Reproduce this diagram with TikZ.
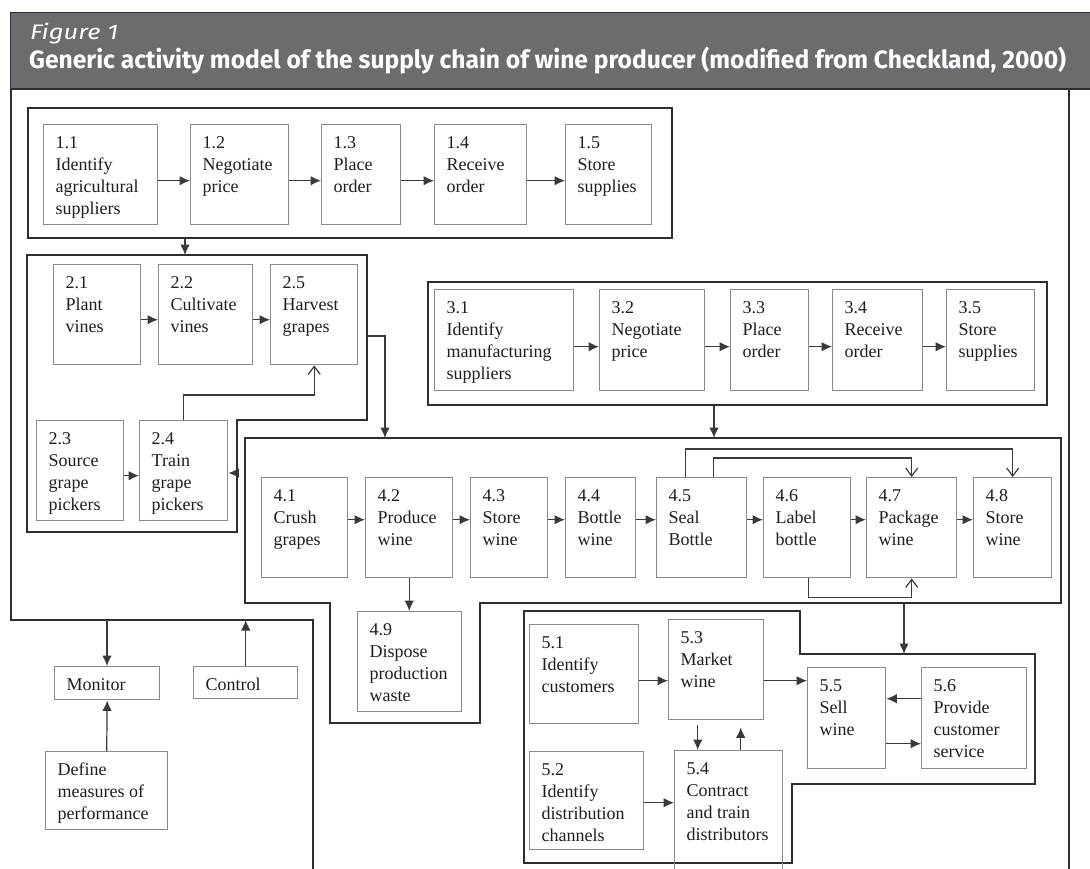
\documentclass[tikz,border=0pt]{standalone}
\usepackage{fontspec}
\usepackage{graphicx}
\setmainfont{Liberation Serif}
\newfontfamily\hdrfont{Fira Sans}
\usetikzlibrary{arrows.meta}
\definecolor{hdr}{HTML}{6B6C70}
\definecolor{framecol}{HTML}{2E2E2E}
\definecolor{boxcol}{HTML}{8A8A8A}
\definecolor{linecol}{HTML}{3A3A3A}
\definecolor{txtcol}{HTML}{1E1E1E}
\tikzset{
  framest/.style={draw=framecol, line width=1.8pt},
  framebox/.style={framest, anchor=north west, inner sep=0pt},
  boxst/.style={draw=boxcol, line width=1.4pt, anchor=north west, inner sep=0pt,
    font=\fontsize{18}{22}\selectfont, text=txtcol},
  arr/.style={draw=linecol, line width=1.2pt, -{Latex[length=10.5pt,width=9.5pt]}},
  fb/.style={draw=linecol, line width=1.2pt, -{Straight Barb[length=8pt,width=12pt]}},
}
\newcommand\actbox[6]{\node[boxst] (#1) at (#2,#3)
  {\parbox[t][#5pt][t]{#4pt}{\leftskip=12pt\rule{0pt}{24pt}#6}};}
\begin{document}
\begin{tikzpicture}[x=1pt,y=-1pt]
\useasboundingbox (0,0) rectangle (1090,868);
\clip (0,0) rectangle (1090,868);
\fill[white] (0,0) rectangle (1090,868);
% header
\fill[hdr] (10,12) rectangle (1090,88);
\draw[framecol, line width=1pt] (10,88) -- (10,12) -- (1090,12);
\node[anchor=base west, inner sep=0pt, text=white,
  font=\hdrfont\itshape\fontsize{21}{24}\selectfont] (fig) at (30,39) {\resizebox{88pt}{\height}{Figure 1}};
\node[anchor=base west, inner sep=0pt, text=white,
  font=\hdrfont\bfseries\fontsize{25}{30}\selectfont] (ttl) at (29,68)
  {\resizebox{1037pt}{\height}{Generic activity model of the supply chain of wine producer (modified from Checkland, 2000)}};
% outer frame
\draw[framest] (313,875) -- (313,620) -- (11,620) -- (11,89) -- (1069,89) -- (1069,875);
\draw[framecol, line width=1.5pt] (10,89) -- (1090,89);
% group frames
\node[framebox, minimum width=644pt, minimum height=130pt] (g1) at (27,107) {};
\draw[framest] (27,255) -- (367,255) -- (367,420) -- (237,420) -- (237,532) -- (27,532) -- cycle;
\node[framebox, minimum width=619pt, minimum height=123pt] (g3) at (427,281) {};
\draw[framest] (245,438) -- (1061,438) -- (1061,603) -- (480,603) -- (480,723) -- (330,723) -- (330,603) -- (245,603) -- cycle;
\draw[framest] (524,611) -- (800,611) -- (800,654) -- (1035,654) -- (1035,784) -- (792,784) -- (792,863) -- (524,863) -- cycle;
% group 1
\actbox{b11}{43}{124}{114}{100}{1.1\\Identify\\agricultural\\suppliers}
\actbox{b12}{190}{124}{98}{100}{1.2\\Negotiate\\price}
\actbox{b13}{321}{124}{79}{100}{1.3\\Place\\order}
\actbox{b14}{434}{124}{92}{100}{1.4\\Receive\\order}
\actbox{b15}{565}{124}{86}{100}{1.5\\Store\\supplies}
% group 2
\actbox{b21}{53}{264}{87}{100}{2.1\\Plant\\vines}
\actbox{b22}{158}{264}{94}{100}{2.2\\Cultivate\\vines}
\actbox{b25}{270}{264}{87}{100}{2.5\\Harvest\\grapes}
\actbox{b23}{36}{420}{87}{100}{2.3\\Source\\grape\\pickers}
\actbox{b24}{139}{420}{88}{100}{2.4\\Train\\grape\\pickers}
% group 3
\actbox{b31}{434}{289}{139}{101}{3.1\\Identify\\manufacturing\\suppliers}
\actbox{b32}{599}{289}{105}{101}{3.2\\Negotiate\\price}
\actbox{b33}{730}{289}{78}{101}{3.3\\Place\\order}
\actbox{b34}{832}{289}{90}{101}{3.4\\Receive\\order}
\actbox{b35}{946}{289}{88}{101}{3.5\\Store\\supplies}
% group 4
\actbox{b41}{261}{477}{86}{100}{4.1\\Crush\\grapes}
\actbox{b42}{365}{477}{87}{100}{4.2\\Produce\\wine}
\actbox{b43}{470}{477}{77}{100}{4.3\\Store\\wine}
\actbox{b44}{565}{477}{70}{100}{4.4\\Bottle\\wine}
\actbox{b45}{656}{477}{90}{100}{4.5\\Seal\\Bottle}
\actbox{b46}{763}{477}{87}{100}{4.6\\Label\\bottle}
\actbox{b47}{866}{477}{90}{100}{4.7\\Package\\wine}
\actbox{b48}{973}{477}{78}{100}{4.8\\Store\\wine}
\actbox{b49}{357}{611}{104}{100}{4.9\\Dispose\\production\\waste}
% group 5
\actbox{b51}{529}{624}{109}{99}{5.1\\Identify\\customers}
\actbox{b53}{668}{619}{95}{100}{5.3\\Market\\wine}
\actbox{b52}{529}{751}{114}{98}{5.2\\Identify\\distribution\\channels}
\actbox{b54}{674}{750}{108}{130}{5.4\\Contract\\and train\\distributors}
\actbox{b55}{807}{667}{78}{101}{5.5\\Sell\\wine}
\actbox{b56}{921}{667}{105}{101}{5.6\\Provide\\customer\\service}
% monitor and control
\actbox{mon}{54}{666}{105}{33}{Monitor}
\actbox{ctl}{193}{666}{104}{32}{Control}
\actbox{def}{45}{751}{122}{78}{Define\\measures of\\performance}
% coordinates for free ends
\coordinate (g2top) at (185,255);
\coordinate (g2r) at (367,336);
\coordinate (g4a) at (385,438);
\coordinate (g4b) at (714,438);
\coordinate (g2in) at (238,473);
\coordinate (g4bot) at (904,603);
\coordinate (g5top) at (904,654);
\coordinate (obm) at (107,620);
\coordinate (obc) at (246,620);
% group 1 arrows
\draw[arr] ([yshift=-6pt]b11.east) -- ([yshift=-6pt]b12.west);
\draw[arr] ([yshift=-6pt]b12.east) -- ([yshift=-6pt]b13.west);
\draw[arr] ([yshift=-6pt]b13.east) -- ([yshift=-6pt]b14.west);
\draw[arr] ([yshift=-6pt]b14.east) -- ([yshift=-6pt]b15.west);
% group connectors
\draw[arr] (g1.south -| g2top) -- (g2top);
\draw[arr] (g2r) -| (g4a);
\draw[arr] (g3.south -| g4b) -- (g4b);
\draw[arr] (g4bot) -- (g5top);
% group 2 arrows
\draw[arr] ([yshift=-5pt]b21.east) -- ([yshift=-5pt]b22.west);
\draw[arr] ([yshift=-5pt]b22.east) -- ([yshift=-5pt]b25.west);
\draw[arr] ([yshift=-5pt]b23.east) -- ([yshift=-5pt]b24.west);
\draw[arr] (g2in) -- (g2in -| b24.east);
\draw[fb] (b24.north) -- ++(0,-25) -| (b25.south);
% group 3 arrows
\draw[arr] ([yshift=-6.5pt]b31.east) -- ([yshift=-6.5pt]b32.west);
\draw[arr] ([yshift=-6.5pt]b32.east) -- ([yshift=-6.5pt]b33.west);
\draw[arr] ([yshift=-6.5pt]b33.east) -- ([yshift=-6.5pt]b34.west);
\draw[arr] ([yshift=-6.5pt]b34.east) -- ([yshift=-6.5pt]b35.west);
% group 4 arrows
\draw[arr] ([yshift=8pt]b41.east) -- ([yshift=8pt]b42.west);
\draw[arr] ([yshift=8pt]b42.east) -- ([yshift=8pt]b43.west);
\draw[arr] ([yshift=8pt]b43.east) -- ([yshift=8pt]b44.west);
\draw[arr] ([yshift=8pt]b44.east) -- ([yshift=8pt]b45.west);
\draw[arr] ([yshift=8pt]b45.east) -- ([yshift=8pt]b46.west);
\draw[arr] ([yshift=8pt]b46.east) -- ([yshift=8pt]b47.west);
\draw[arr] ([yshift=8pt]b47.east) -- ([yshift=8pt]b48.west);
\draw[arr] (b42.south) -- (b42.south |- b49.north);
\draw[fb] ([xshift=-16pt]b45.north) -- ++(0,-28) -| (b48.north);
\draw[fb] ([xshift=12pt]b45.north) -- ++(0,-19) -| (b47.north);
\draw[fb] ([xshift=1.5pt]b46.south) -- ++(0,19) -| (b47.south);
% group 5 arrows
\draw[arr] ([yshift=-6.5pt]b51.east) -- ([yshift=-11pt]b53.west);
\draw[arr] ([yshift=-11pt]b53.east) -- ([yshift=37.5pt]b55.west);
\draw[arr] ([yshift=19.5pt]b56.west) -- ([yshift=19.5pt]b55.east);
\draw[arr] ([yshift=-25.5pt]b55.east) -- ([yshift=-25.5pt]b56.west);
\draw[arr, shorten <=5pt] ([xshift=-18.5pt]b53.south) -- ([xshift=-31pt]b54.north);
\draw[arr, shorten >=7pt] ([xshift=12pt]b54.north) -- ([xshift=24.5pt]b53.south);
\draw[arr] ([yshift=-2pt]b52.east) -- ([yshift=13pt]b54.west);
% monitor and control
\draw[arr] (obm) -- (obm |- mon.north);
\draw[arr] (def.north) -- (mon.south);
\draw[arr] (ctl.north) -- (ctl.north |- obc);
\end{tikzpicture}
\end{document}
